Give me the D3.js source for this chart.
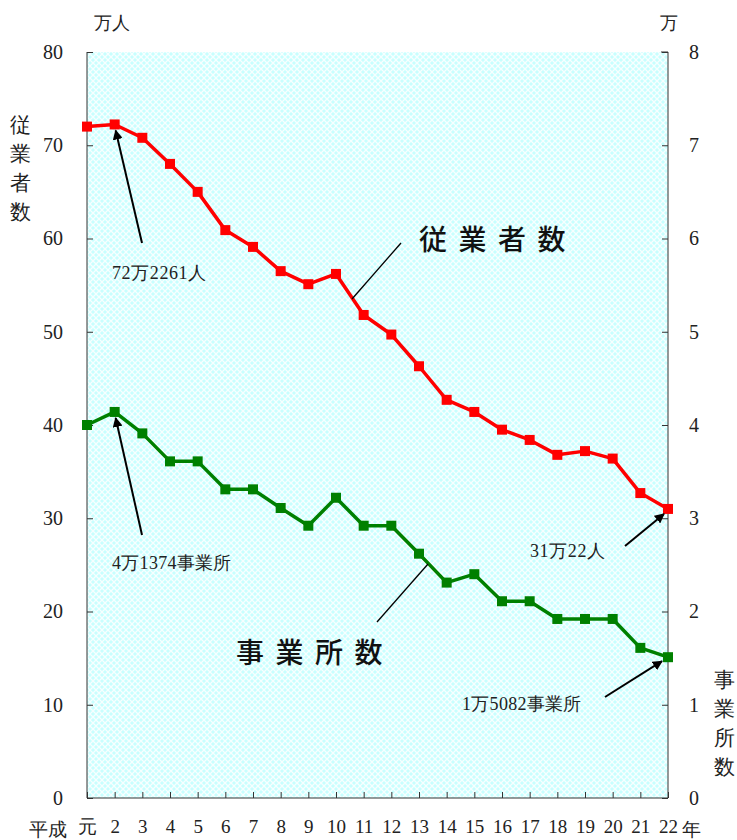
<!DOCTYPE html>
<html><head><meta charset="utf-8">
<script src="https://cdn.jsdelivr.net/npm/d3@7"></script>
<style>body{margin:0;background:#fff} .sf{font-family:"Times New Roman","Liberation Serif","DejaVu Serif",serif}</style>
</head><body><svg id="c" width="737" height="840"></svg>
<script>
const categories = ["元","2","3","4","5","6","7","8","9","10","11","12","13","14","15","16","17","18","19","20","21","22"];
const employees = [72.0,72.23,70.8,68.0,65.0,60.9,59.1,56.5,55.1,56.2,51.8,49.7,46.3,42.7,41.4,39.5,38.4,36.8,37.2,36.4,32.7,31.0];
const establishments = [4.0,4.14,3.91,3.61,3.61,3.31,3.31,3.11,2.92,3.22,2.92,2.92,2.62,2.31,2.40,2.11,2.11,1.92,1.92,1.92,1.61,1.51];
const leftTicks = [0,10,20,30,40,50,60,70,80];
const rightTicks = [0,1,2,3,4,5,6,7,8];

const svg = d3.select("#c");
const L = 87, R = 668, T = 52, B = 798;
const x = d3.scalePoint().domain(categories).range([L, R]);
const yL = d3.scaleLinear().domain([0, 80]).range([B, T]);
const yR = d3.scaleLinear().domain([0, 8]).range([B, T]);
const cjk = "'Noto Sans CJK JP',sans-serif";

const defs = svg.append("defs");
const pat = defs.append("pattern").attr("id","hatch").attr("width",6).attr("height",6).attr("patternUnits","userSpaceOnUse");
pat.append("rect").attr("width",6).attr("height",6).attr("fill","#c8ffff");
pat.append("path").attr("d","M0,0L6,6M6,0L0,6").attr("stroke","#ffffff").attr("stroke-width",1.3).attr("opacity",0.85);
defs.append("marker").attr("id","arr").attr("viewBox","0 0 10 10").attr("refX",9).attr("refY",5)
  .attr("markerWidth",5).attr("markerHeight",5).attr("orient","auto")
  .append("path").attr("d","M0,0L10,5L0,10z").attr("fill","#000");

svg.append("rect").attr("x",L).attr("y",T).attr("width",R-L).attr("height",B-T).attr("fill","url(#hatch)");

// axes
const axL = d3.axisLeft(yL).tickValues(leftTicks).tickSize(-6).tickPadding(24).tickFormat(d3.format("d"));
const gL = svg.append("g").attr("transform",`translate(${L},0)`).call(axL);
const axR = d3.axisRight(yR).tickValues(rightTicks).tickSize(-6).tickPadding(21).tickFormat(d3.format("d"));
const gR = svg.append("g").attr("transform",`translate(${R},0)`).call(axR);
const axB = d3.axisBottom(x).tickSize(-6).tickPadding(22);
const gB = svg.append("g").attr("transform",`translate(0,${B})`).call(axB);
[gL,gR,gB].forEach(g=>{
  g.attr("font-family",null).attr("font-size",null);
  g.select(".domain").attr("stroke","#333");
  g.selectAll(".tick line").attr("stroke","#333");
  g.selectAll("text").attr("class","sf").attr("font-size",20).attr("fill","#222");
});
gB.selectAll("text").attr("font-size",19);
gL.select(".domain").attr("d",`M0,${T}H0V${B}`);
gL.selectAll(".tick line").attr("x2",6);
gR.select(".domain").attr("d",`M-7,${T}H0V${B}`);
gR.selectAll(".tick line").attr("x2",-6);
gB.select(".domain").attr("d",`M${L},0H${R}`);
gL.selectAll(".tick text").attr("dy","0.32em");
gR.selectAll(".tick text").attr("dy","0.32em");

// line series
function series(data, scale, color){
  const line = d3.line().x((d,i)=>x(categories[i])).y(d=>scale(d));
  svg.append("path").datum(data).attr("d",line).attr("fill","none").attr("stroke",color).attr("stroke-width",3.5).attr("stroke-linejoin","round");
  svg.append("g").selectAll("rect").data(data).join("rect")
    .attr("x",(d,i)=>x(categories[i])-5).attr("y",d=>scale(d)-5).attr("width",10).attr("height",10).attr("fill",color);
}
series(employees, yL, "#ff0000");
series(establishments, yR, "#008000");

// annotations
function arrow(x1,y1,x2,y2){
  svg.append("line").attr("x1",x1).attr("y1",y1).attr("x2",x2).attr("y2",y2).attr("stroke","#000").attr("stroke-width",2).attr("marker-end","url(#arr)");
}
function txt(t,xx,yy,size,anchor,fam,weight,fill){
  const e = svg.append("text").attr("x",xx).attr("y",yy).attr("font-size",size).attr("text-anchor",anchor||"start")
    .attr("font-weight",weight||400).attr("fill",fill||"#222").text(t);
  if (fam) e.attr("font-family",fam); else e.attr("class","sf");
  return e;
}
function spaced(t,x0,yy,size,pitch){
  t.split("").forEach((c,i)=>txt(c,x0+i*pitch,yy,size,"start",cjk,500,"#111"));
}
const n = categories.length-1;
arrow(142,243,x(categories[1])+1,yL(employees[1])+6);
txt("72万2261人",112,279,18).attr("letter-spacing",0.6);
arrow(142,535,x(categories[1])+1,yR(establishments[1])+6);
txt("4万1374事業所",112,569,18).attr("letter-spacing",0.3);
arrow(625,546,x(categories[n])-4,yL(employees[n])+5);
txt("31万22人",530,557,18).attr("letter-spacing",0.6);
arrow(605,697,x(categories[n])-6,yR(establishments[n])+4);
txt("1万5082事業所",462,710,18).attr("letter-spacing",0.3);

svg.append("line").attr("x1",352).attr("y1",299).attr("x2",401).attr("y2",243).attr("stroke","#000").attr("stroke-width",1.3);
spaced("従業者数",419,250,28,39.5);
svg.append("line").attr("x1",377).attr("y1",622).attr("x2",428).attr("y2",564).attr("stroke","#000").attr("stroke-width",1.3);
spaced("事業所数",236,663,28,39.5);

// unit labels
txt("万人",94,29,18);
txt("万",660,29,18);
["従","業","者","数"].forEach((c,i)=>txt(c,20,132+i*29,21,"middle"));
["事","業","所","数"].forEach((c,i)=>txt(c,724,687+i*29,21,"middle"));
txt("平成",48,836,19,"middle");
txt("年",691,836,19,"middle");
</script></body></html>
